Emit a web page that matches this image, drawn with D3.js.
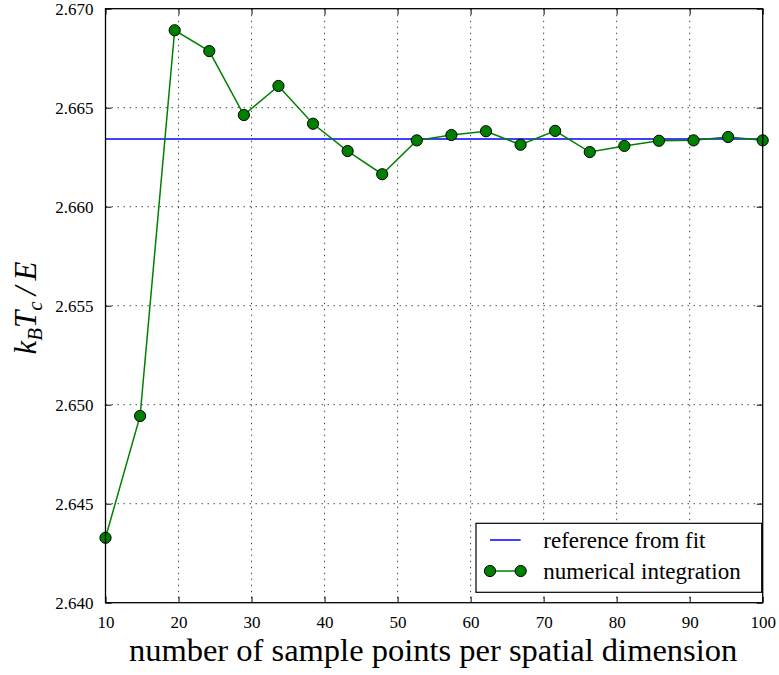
<!DOCTYPE html>
<html>
<head>
<meta charset="utf-8">
<script src="https://cdn.jsdelivr.net/npm/d3@7"></script>
<style>
  body { margin: 0; background: #fff; }
  svg text { font-family: "Liberation Serif", "DejaVu Serif", serif; fill: #000; }
</style>
</head>
<body>
<svg id="chart" width="779" height="675"></svg>
<script>
// Sample counts per spatial dimension (20 evenly spaced steps from 10 to 100)
const samplePoints = [10, 14.737, 19.474, 24.211, 28.947, 33.684, 38.421, 43.158, 47.895, 52.632,
                      57.368, 62.105, 66.842, 71.579, 76.316, 81.053, 85.789, 90.526, 95.263, 100];
// Critical temperature k_B T_c / E from numerical integration
const integrationValues = [2.64328, 2.64943, 2.66891, 2.66786, 2.66463, 2.66610, 2.66419, 2.66281,
                           2.66164, 2.66335, 2.66362, 2.66381, 2.66313, 2.66383, 2.66276, 2.66307,
                           2.66333, 2.66335, 2.66352, 2.66335];
// Reference value obtained from a fit
const referenceValue = [2.66342];
const xTicks = [10, 20, 30, 40, 50, 60, 70, 80, 90, 100];
const yTicks = [2.640, 2.645, 2.650, 2.655, 2.660, 2.665, 2.670];
const legendLabels = ["reference from fit", "numerical integration"];

const svg = d3.select("#chart");
const plotL = 105.5, plotR = 762.7, plotT = 8.7, plotB = 602.7;

const x = d3.scaleLinear().domain([10, 100]).range([plotL, plotR]);
const y = d3.scaleLinear().domain([2.640, 2.670]).range([plotB, plotT]);

// Grid lines (dotted)
const grid = svg.append("g").attr("stroke", "#222").attr("stroke-width", 1)
  .attr("stroke-dasharray", "1.5,4.5").attr("opacity", 0.8);
grid.selectAll("line.gx").data(xTicks.slice(1, -1)).join("line").attr("class", "gx")
  .attr("x1", d => x(d)).attr("x2", d => x(d)).attr("y1", plotT).attr("y2", plotB);
grid.selectAll("line.gy").data(yTicks.slice(1, -1)).join("line").attr("class", "gy")
  .attr("y1", d => y(d)).attr("y2", d => y(d)).attr("x1", plotL).attr("x2", plotR);

// Reference line
svg.append("line")
  .attr("x1", plotL).attr("x2", plotR)
  .attr("y1", y(referenceValue[0])).attr("y2", y(referenceValue[0]))
  .attr("stroke", "#0000ff").attr("stroke-width", 1.5);

// Numerical integration series
const line = d3.line().x((d, i) => x(samplePoints[i])).y(d => y(d));
svg.append("path").datum(integrationValues)
  .attr("d", line).attr("fill", "none")
  .attr("stroke", "#008000").attr("stroke-width", 1.5);

svg.append("g").selectAll("circle").data(integrationValues).join("circle")
  .attr("cx", (d, i) => x(samplePoints[i])).attr("cy", d => y(d)).attr("r", 5.6)
  .attr("fill", "#008000").attr("stroke", "#000").attr("stroke-width", 1);

// Axes with inward ticks on all four sides
const xAxisB = d3.axisBottom(x).tickValues(xTicks).tickSize(-6).tickPadding(13).tickFormat(d3.format("d"));
const xAxisT = d3.axisTop(x).tickValues(xTicks).tickSize(-6).tickFormat("");
const yAxisL = d3.axisLeft(y).tickValues(yTicks).tickSize(-6).tickPadding(12).tickFormat(d3.format(".3f"));
const yAxisR = d3.axisRight(y).tickValues(yTicks).tickSize(-6).tickFormat("");

function styleAxis(g) {
  g.select(".domain").remove();
  g.selectAll(".tick line").attr("stroke", "#000").attr("stroke-width", 1);
  g.selectAll("text").attr("font-size", 17).attr("font-family", "Liberation Serif, serif");
}
svg.append("g").attr("transform", `translate(0,${plotB})`).call(xAxisB).call(styleAxis);
svg.append("g").attr("transform", `translate(0,${plotT})`).call(xAxisT).call(styleAxis);
svg.append("g").attr("transform", `translate(${plotL},0)`).call(yAxisL).call(styleAxis);
svg.append("g").attr("transform", `translate(${plotR},0)`).call(yAxisR).call(styleAxis);

// Frame
svg.append("rect").attr("x", plotL).attr("y", plotT).attr("width", plotR - plotL).attr("height", plotB - plotT)
  .attr("fill", "none").attr("stroke", "#000").attr("stroke-width", 1.3);

// Axis labels
svg.append("text").attr("x", (plotL + plotR) / 2 - 1).attr("y", 661)
  .attr("text-anchor", "middle").attr("font-size", 32.5)
  .text("number of sample points per spatial dimension");

const yl = svg.append("text").attr("transform", `translate(36,308) rotate(-90)`)
  .attr("text-anchor", "middle").attr("font-size", 31).attr("font-style", "italic");
yl.append("tspan").text("k");
yl.append("tspan").attr("font-size", 21).attr("dy", 6).text("B");
yl.append("tspan").attr("dy", -6).text("T");
yl.append("tspan").attr("font-size", 21).attr("dy", 6).text("c");
yl.append("tspan").attr("dy", -6).text("\u2009/\u2009");
yl.append("tspan").text("E");

// Legend
const lg = svg.append("g");
lg.append("rect").attr("x", 476).attr("y", 523.3).attr("width", 285.7).attr("height", 69)
  .attr("fill", "#fff").attr("stroke", "#000").attr("stroke-width", 1.2);
lg.append("line").attr("x1", 490).attr("x2", 520.7).attr("y1", 540).attr("y2", 540)
  .attr("stroke", "#0000ff").attr("stroke-width", 1.5);
lg.append("line").attr("x1", 490).attr("x2", 520.7).attr("y1", 571).attr("y2", 571)
  .attr("stroke", "#008000").attr("stroke-width", 1.5);
lg.selectAll("circle").data([490, 520.7]).join("circle")
  .attr("cx", d => d).attr("cy", 571).attr("r", 5.6)
  .attr("fill", "#008000").attr("stroke", "#000").attr("stroke-width", 1);
lg.selectAll("text").data(legendLabels).join("text")
  .attr("x", 543.3).attr("y", (d, i) => 540 + i * 31).attr("dy", "0.35em")
  .attr("font-size", 23).text(d => d);
</script>
</body>
</html>
